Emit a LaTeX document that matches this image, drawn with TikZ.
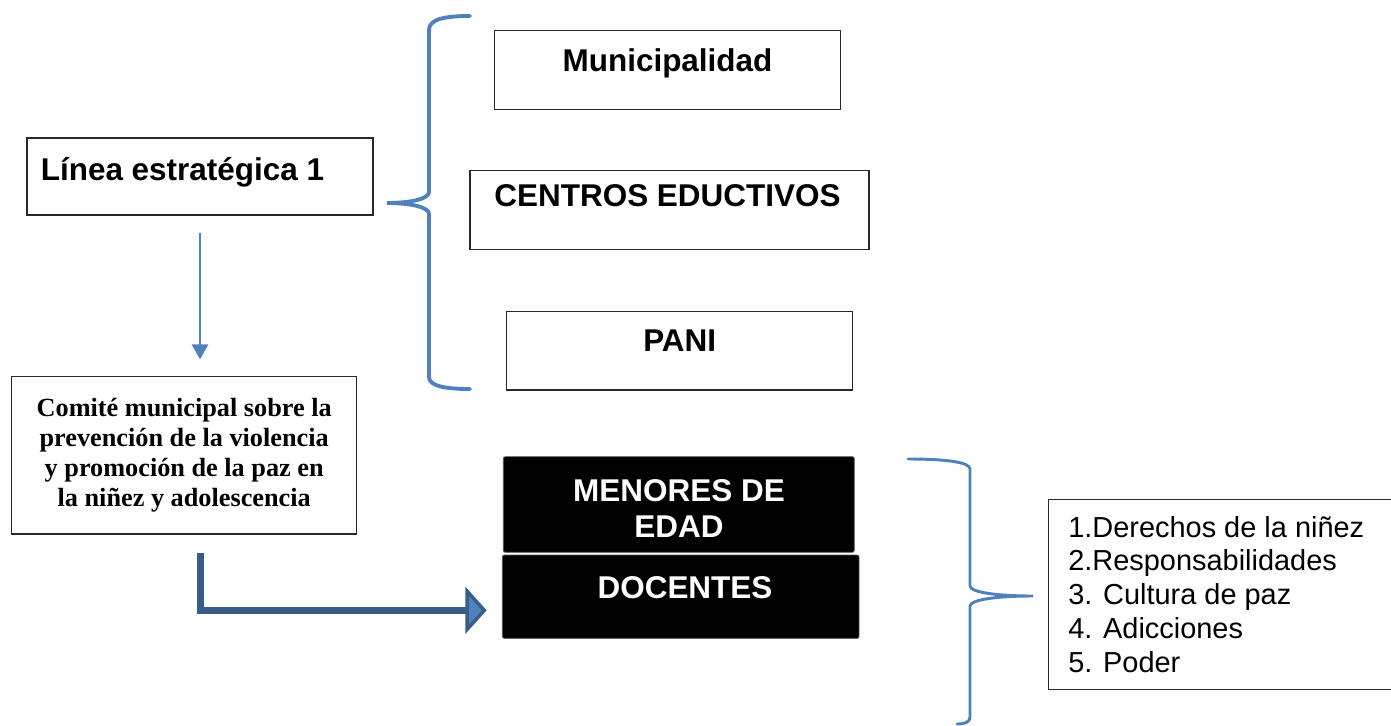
\documentclass[tikz,border=0pt]{standalone}
\usepackage{fontspec}
\setmainfont{Liberation Sans}
\newfontfamily\serifbold{Liberation Serif}
\usetikzlibrary{arrows.meta,calc}
\newlength\upx
\setlength\upx{0.75pt}

\begin{document}
\begin{tikzpicture}[x=0.75pt,y=0.75pt,yscale=-1,xscale=1,
  caja/.style={draw={rgb, 255:red, 40; green, 40; blue, 40 },line width=0.9pt,inner sep=0pt},
  cajanegra/.style={fill=black,draw={rgb, 255:red, 90; green, 90; blue, 90 },line width=0.6pt,rounded corners=1.5pt,inner sep=0pt},
  titulo/.style={inner sep=0pt,anchor=base,font=\fontsize{23.6}{27}\selectfont\bfseries},
  llave/.style={draw={rgb, 255:red, 79; green, 129; blue, 189 },line cap=round},
  flechafina/.style={draw={rgb, 255:red, 79; green, 129; blue, 189 },line width=1.9pt,
    -{Triangle[length=11.25pt,width=12pt,fill={rgb, 255:red, 79; green, 129; blue, 189 }]}},
  flechagruesa/.style={draw={rgb, 255:red, 56; green, 93; blue, 138 },line width=5.25pt,
    -{Triangle[length=16pt,width=35pt,line width=2.6pt,fill={rgb, 255:red, 79; green, 129; blue, 189 }]}}
]
\useasboundingbox (0,0) rectangle (1391,725);

%Shape: Rectangle
\node[caja,minimum width=346\upx,minimum height=77\upx] (linea) at (200,176.5) {};
%Shape: Rectangle
\node[caja,minimum width=346\upx,minimum height=78.6\upx] (muni) at (667.2,70) {};
%Shape: Rectangle
\node[caja,minimum width=399\upx,minimum height=78.6\upx] (centros) at (669.5,210) {};
%Shape: Rectangle
\node[caja,minimum width=346\upx,minimum height=78.3\upx] (pani) at (679.7,350.8) {};
%Shape: Rectangle
\node[caja,minimum width=345\upx,minimum height=157.3\upx,align=center,
  font=\serifbold\fontsize{19.7}{22.5}\selectfont\bfseries] (comite) at (184.2,455.3)
  {Comité municipal sobre la\\prevención de la violencia\\y promoción de la paz en\\la niñez y adolescencia};
%Shape: Rectangle
\node[cajanegra,minimum width=351\upx,minimum height=95.6\upx] (menores) at (678.8,504.5) {};
%Shape: Rectangle
\node[cajanegra,minimum width=356.7\upx,minimum height=83.3\upx] (docentes) at (680.7,596.7) {};
%Shape: Rectangle (cut off at the right edge)
\node[inner sep=0pt,minimum width=342\upx,minimum height=189\upx] (lista) at (1220,594.5) {};
\draw[draw={rgb, 255:red, 40; green, 40; blue, 40 },line width=0.9pt]
  (lista.north east) -- (lista.north west) -- (lista.south west) -- (lista.south east);

% Text Node
\node[titulo] (t-linea) at (182.5,180) {Línea estratégica 1};
% Text Node
\node[titulo] (t-muni) at (667.5,71.7) {Municipalidad};
% Text Node
\node[titulo] (t-centros) at (667.5,206.7) {CENTROS EDUCTIVOS};
% Text Node
\node[titulo] (t-pani) at (679.7,351.7) {PANI};
% Text Node
\node[titulo,white,align=center] (t-menores) at (679,537) {MENORES DE\\EDAD};
% Text Node
\node[titulo,white] (t-docentes) at (685,598) {DOCENTES};
% Text Node
\node[inner sep=0pt,anchor=base west,align=left,font=\fontsize{21.7}{25.3}\selectfont] (t-lista) at (1068,672)
  {1.Derechos de la niñez\\2.Responsabilidades\\3. Cultura de paz\\4. Adicciones\\5. Poder};

%Shape: Brace
\draw[llave,line width=2.9pt] (470,16) .. controls (445,16) and (429,19) .. (429,30) -- (429,192)
  .. controls (429,199) and (410,203) .. (387,203) .. controls (410,203) and (429,207) .. (429,214)
  -- (429,377) .. controls (429,386) and (445,389) .. (470,389);
%Shape: Brace
\draw[llave,line width=2.2pt] (908,459) .. controls (945,459) and (970,462) .. (970,469) -- (970,586)
  .. controls (970,592) and (995,596) .. (1033,596) .. controls (995,596) and (970,600) .. (970,606)
  -- (970,717) .. controls (970,722) and (965,724) .. (957,724);

%Straight Lines
\draw[flechafina,shorten <=12.75pt,shorten >=12.5pt] (linea.south) -- (linea.south |- comite.north);
%Elbow Arrow
\draw[flechagruesa,shorten <=13.5pt,shorten >=11.5pt] (linea.south |- comite.south) |- ($(docentes.west)+(0,13.6)$);

\end{tikzpicture}
\end{document}
